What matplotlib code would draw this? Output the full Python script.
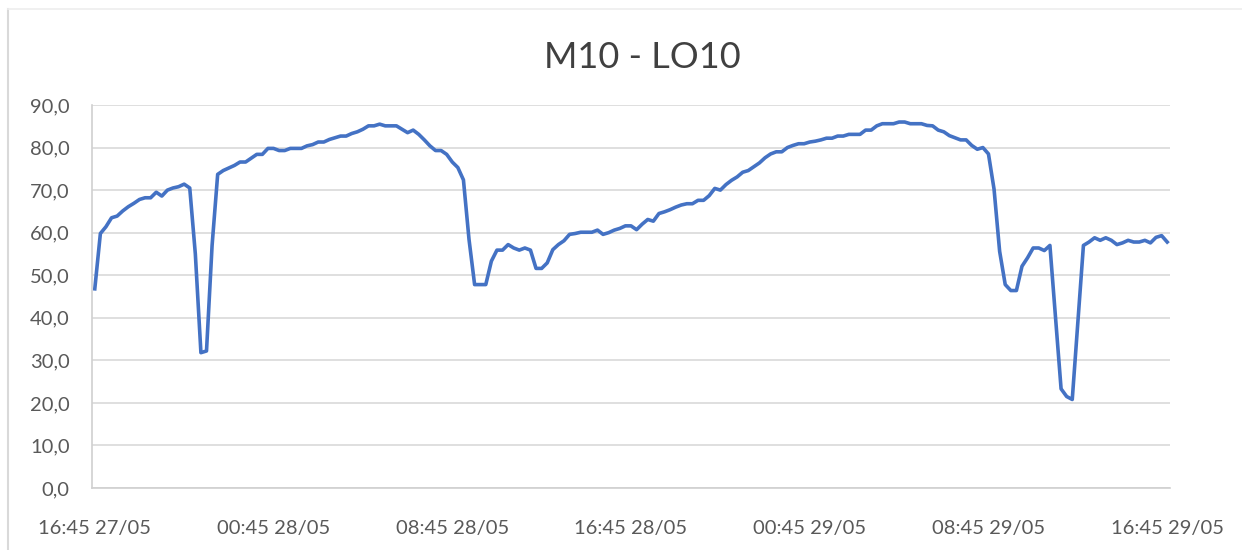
import matplotlib

matplotlib.use("Agg")
import matplotlib.pyplot as plt
from matplotlib.lines import Line2D

# readings every 15 min, 16:45 27/05 -> 16:45 29/05
values = [
    46.8, 59.8, 61.4, 63.5, 63.9, 65.1, 66.1, 66.9, 67.8, 68.2,
    68.2, 69.5, 68.6, 70.0, 70.5, 70.8, 71.4, 70.5, 55.0, 31.8,
    32.2, 57.0, 73.7, 74.6, 75.2, 75.8, 76.6, 76.6, 77.5, 78.4,
    78.4, 79.8, 79.8, 79.3, 79.3, 79.8, 79.8, 79.8, 80.4, 80.7,
    81.3, 81.3, 81.9, 82.3, 82.7, 82.7, 83.3, 83.7, 84.3, 85.1,
    85.1, 85.5, 85.1, 85.1, 85.1, 84.3, 83.5, 84.1, 83.1, 81.8,
    80.4, 79.3, 79.3, 78.4, 76.6, 75.3, 72.4, 58.4, 47.8, 47.8,
    47.8, 53.3, 55.9, 55.9, 57.2, 56.4, 55.9, 56.4, 55.9, 51.6,
    51.6, 52.9, 56.0, 57.2, 58.1, 59.6, 59.8, 60.1, 60.1, 60.1,
    60.6, 59.6, 60.0, 60.6, 61.0, 61.6, 61.6, 60.7, 62.0, 63.1,
    62.7, 64.5, 64.9, 65.4, 66.0, 66.5, 66.8, 66.8, 67.6, 67.6,
    68.7, 70.4, 70.0, 71.3, 72.3, 73.1, 74.2, 74.6, 75.5, 76.4,
    77.6, 78.5, 79.0, 79.0, 80.0, 80.5, 80.9, 80.9, 81.3, 81.5,
    81.8, 82.2, 82.2, 82.7, 82.7, 83.1, 83.1, 83.1, 84.1, 84.1,
    85.1, 85.6, 85.6, 85.6, 86.0, 86.0, 85.6, 85.6, 85.6, 85.2,
    85.1, 84.1, 83.7, 82.8, 82.3, 81.8, 81.8, 80.5, 79.6, 80.0,
    78.5, 70.2, 55.6, 47.8, 46.4, 46.4, 52.1, 54.1, 56.4, 56.4,
    55.8, 57.0, 40.0, 23.3, 21.5, 20.8, 39.0, 57.0, 57.8, 58.8,
    58.2, 58.8, 58.2, 57.2, 57.6, 58.2, 57.8, 57.8, 58.2, 57.6,
    58.9, 59.3, 57.8,
]
tick_labels = ["16:45 27/05", "00:45 28/05", "08:45 28/05", "16:45 28/05",
               "00:45 29/05", "08:45 29/05", "16:45 29/05"]
title = "M10 - LO10"

plt.rcParams["font.family"] = ["Lato", "DejaVu Sans"]

fig = plt.figure(figsize=(12.42, 5.5), dpi=100)
ax = fig.add_axes([92 / 1242, 62 / 550, 1078 / 1242, 383 / 550])

x = list(range(len(values)))
ax.plot(x, values, color="#4472C4", lw=2.6, solid_joinstyle="round")

ax.set_xlim(-0.5, len(values) - 0.5)
ax.set_ylim(0, 90)
ax.set_yticks(range(0, 91, 10))
ax.set_yticklabels([f"{v},0" for v in range(0, 91, 10)])
ax.set_xticks(range(0, len(values), 32))
ax.set_xticklabels(tick_labels)
ax.tick_params(axis="both", length=0, labelsize=14.5, labelcolor="#595959")
ax.tick_params(axis="x", pad=23)
ax.tick_params(axis="y", pad=16)

ax.grid(axis="y", color="#d9d9d9", lw=1.2)
ax.set_axisbelow(True)
for s in ("top", "right"):
    ax.spines[s].set_visible(False)
for s in ("left", "bottom"):
    ax.spines[s].set_color("#d0d0d0")
    ax.spines[s].set_linewidth(1.2)

fig.text(642 / 1242, 1 - 57 / 550, title, ha="center", va="center",
         fontsize=26, color="#404040")

# chart frame (cropped Excel chart area)
fig.add_artist(Line2D([8 / 1242, 8 / 1242], [0, 1 - 9 / 550], color="#d9d9d9", lw=1.5))
fig.add_artist(Line2D([8 / 1242, 1], [1 - 9 / 550, 1 - 9 / 550], color="#eeeeee", lw=1.2))

fig.savefig("out.png", dpi=100)
